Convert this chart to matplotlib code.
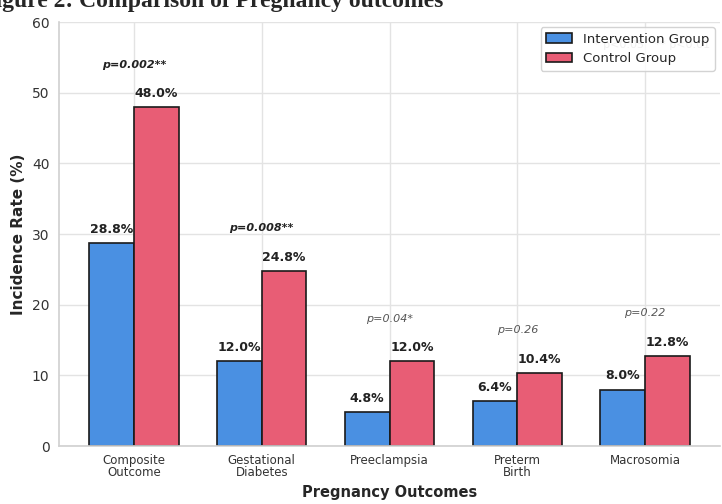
import numpy as np
import matplotlib.pyplot as plt
import seaborn as sns

sns.set_style("whitegrid")

# outcome categories and incidence rates (%)
outcomes = ["Composite\nOutcome", "Gestational\nDiabetes", "Preeclampsia", "Preterm\nBirth", "Macrosomia"]
intervention = [28.8, 12.0, 4.8, 6.4, 8.0]
control = [48.0, 24.8, 12.0, 10.4, 12.8]
p_labels = ["p=0.002**", "p=0.008**", "p=0.04*", "p=0.26", "p=0.22"]
significant = [True, True, False, False, False]

x = np.arange(len(outcomes))
width = 0.35

fig, ax = plt.subplots(figsize=(7.22, 5.04), dpi=100)
fig.subplots_adjust(left=0.082, right=0.997, top=0.956, bottom=0.115)

b1 = ax.bar(x - width / 2, intervention, width, color="#4A90E2", edgecolor="#1a1a1a",
            linewidth=1.2, label="Intervention Group")
b2 = ax.bar(x + width / 2, control, width, color="#E85D75", edgecolor="#1a1a1a",
            linewidth=1.2, label="Control Group")

# value labels on top of each bar
for bars in (b1, b2):
    for bar in bars:
        h = bar.get_height()
        ax.text(bar.get_x() + bar.get_width() / 2, h + 1.0, f"{h:.1f}%",
                ha="center", va="bottom", fontsize=9, fontweight="bold", color="#222222")

# p-values above each group
for i, (p, sig) in enumerate(zip(p_labels, significant)):
    top = max(intervention[i], control[i])
    if sig:
        ax.text(x[i], top + 6, p, ha="center", va="center", fontsize=8,
                style="italic", fontweight="bold", color="#222222")
    else:
        ax.text(x[i], top + 6, p, ha="center", va="center", fontsize=8,
                style="italic", color="#555555")

ax.text(0.985, 0.945, "* p<0.05   ** p<0.01", transform=ax.transAxes, ha="right",
        va="center", fontsize=8, color="#999999")

ax.set_ylim(0, 60)
ax.set_xticks(x)
ax.set_xticklabels(outcomes, fontsize=8.5, color="#333333", linespacing=0.95)
ax.tick_params(axis="x", pad=2)
ax.tick_params(axis="y", labelsize=10, labelcolor="#333333")
ax.set_ylabel("Incidence Rate (%)", fontsize=11, fontweight="bold")
ax.set_xlabel("Pregnancy Outcomes", fontsize=10.5, fontweight="bold", labelpad=4)

ax.grid(True, color="#e3e3e3", linewidth=1)
for side in ("top", "right"):
    ax.spines[side].set_visible(False)
for side in ("left", "bottom"):
    ax.spines[side].set_color("#d0d0d0")
    ax.spines[side].set_linewidth(1.2)

ax.legend(loc="upper right", fontsize=9.5, frameon=True, framealpha=0.85,
          edgecolor="#cccccc", borderaxespad=0.4)

fig.text(-0.027, 0.986, "Figure 2: Comparison of Pregnancy outcomes", ha="left",
         va="baseline", fontsize=17, fontweight="bold", family="Liberation Serif")

fig.savefig("out.png", dpi=100)
